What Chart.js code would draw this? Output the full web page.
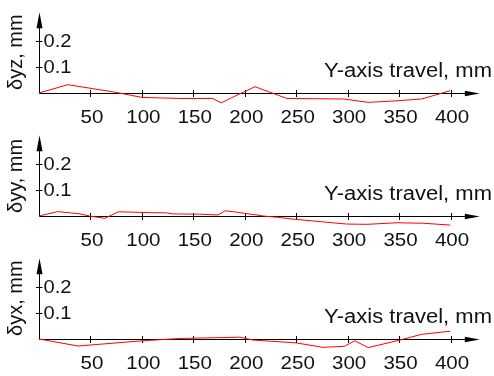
<!DOCTYPE html>
<html>
<head>
<meta charset="utf-8">
<script src="https://cdn.jsdelivr.net/npm/chart.js@4.4.1/dist/chart.umd.min.js"></script>
<style>
  html, body { margin: 0; padding: 0; background: #fff; }
  #wrap { position: relative; width: 494px; height: 376px; overflow: hidden; background: #fff; }
  canvas { position: absolute; left: 0; }
</style>
</head>
<body>
<div id="wrap">
  <canvas id="c1" width="494" height="125" style="top:0px"></canvas>
  <canvas id="c2" width="494" height="125" style="top:123px"></canvas>
  <canvas id="c3" width="494" height="130" style="top:246px"></canvas>
</div>
<script>
// ---- data ----
const xTicks = [50, 100, 150, 200, 250, 300, 350, 400];
const yTicks = [0.1, 0.2];
const xTitle = "Y-axis travel, mm";
const yTitles = ["δyz, mm", "δyy, mm", "δyx, mm"];

const yzX = [0, 28, 74, 100, 137, 169, 177, 200, 210, 241, 296, 320, 348, 372, 400];
const yzV = [0, 0.032, 0.003, -0.017, -0.021, -0.021, -0.038, 0.006, 0.024, -0.021, -0.023, -0.036, -0.030, -0.023, 0.009];

const yyX = [0, 18, 40, 49, 64, 77, 91, 105, 124, 130, 156, 174, 181, 190, 200, 210, 218, 232, 247, 299, 319, 348, 374, 400];
const yyV = [0, 0.017, 0.008, 0, -0.009, 0.016, 0.015, 0.013, 0.012, 0.008, 0.007, 0.004, 0.020, 0.016, 0.010, 0.005, 0, -0.005, -0.012, -0.031, -0.032, -0.026, -0.028, -0.035];

const yxX = [0, 38, 100, 137, 195, 208, 250, 276, 297, 307, 320, 349, 372, 400];
const yxV = [0, -0.027, -0.007, 0.002, 0.007, -0.004, -0.015, -0.032, -0.028, -0.007, -0.033, -0.006, 0.018, 0.030];

const xMin = 0, xMax = 400, xArrowEnd = 428.5;
const yMin = -0.1, yMax = 0.3, yArrowEnd = 0.311;

const FONT = '"Liberation Sans", Arial, sans-serif';

function stretchText(ctx, txt, x, y, sx) {
  ctx.save();
  ctx.translate(x, y);
  ctx.scale(sx, 1);
  ctx.fillText(txt, 0, 0);
  ctx.restore();
}

const axesPlugin = {
  id: 'customAxes',
  beforeDatasetsDraw(chart, args, opts) {
    const ctx = chart.ctx;
    const xs = chart.scales.x, ys = chart.scales.y;
    const x0 = Math.round(xs.getPixelForValue(0)) + 0.5;
    const y0 = Math.round(ys.getPixelForValue(0)) + 0.5;
    const xe = xs.getPixelForValue(xArrowEnd);
    const ye = ys.getPixelForValue(yArrowEnd);
    ctx.save();
    ctx.strokeStyle = '#000';
    ctx.fillStyle = '#000';
    ctx.lineWidth = 1;
    // axes lines
    ctx.beginPath();
    ctx.moveTo(x0, y0); ctx.lineTo(xe - 8, y0);
    ctx.moveTo(x0, y0); ctx.lineTo(x0, ye + 8);
    ctx.stroke();
    // x arrow head
    ctx.beginPath();
    ctx.moveTo(xe, y0);
    ctx.lineTo(xe - 15, y0 - 2.8);
    ctx.lineTo(xe - 15, y0 + 2.8);
    ctx.closePath();
    ctx.fill();
    // y arrow head
    ctx.beginPath();
    ctx.moveTo(x0, ye);
    ctx.lineTo(x0 - 3, ye + 16);
    ctx.lineTo(x0 + 3, ye + 16);
    ctx.closePath();
    ctx.fill();
    // ticks
    ctx.beginPath();
    xTicks.forEach(v => {
      const px = Math.round(xs.getPixelForValue(v)) + 0.5;
      ctx.moveTo(px, y0 - 3.5); ctx.lineTo(px, y0 + 3.5);
    });
    yTicks.forEach(v => {
      const py = Math.round(ys.getPixelForValue(v)) + 0.5;
      ctx.moveTo(x0 - 3.5, py); ctx.lineTo(x0 + 3, py);
    });
    ctx.stroke();
    // tick labels
    ctx.fillStyle = '#111';
    ctx.font = '19px ' + FONT;
    ctx.textAlign = 'center';
    ctx.textBaseline = 'middle';
    xTicks.forEach(v => {
      stretchText(ctx, String(v), xs.getPixelForValue(v) + 1.5, y0 + 24, 1.08);
    });
    ctx.textAlign = 'left';
    yTicks.forEach(v => {
      stretchText(ctx, v.toFixed(1), x0 + 4, ys.getPixelForValue(v) + 1, 1.06);
    });
    // x title
    ctx.font = '20px ' + FONT;
    ctx.textAlign = 'right';
    ctx.textBaseline = 'alphabetic';
    stretchText(ctx, xTitle, 492, y0 - 16.5, 1.1);
    // y title (rotated)
    ctx.save();
    ctx.translate(22, y0 - 3.5);
    ctx.rotate(-Math.PI / 2);
    ctx.textAlign = 'left';
    ctx.fillText(opts.title, 0, 0);
    ctx.restore();
    ctx.restore();
  }
};

function makeChart(id, xsArr, vsArr, title, bottomPad) {
  const pts = xsArr.map((x, i) => ({ x: x, y: vsArr[i] }));
  return new Chart(document.getElementById(id), {
    type: 'line',
    data: {
      datasets: [{
        data: pts,
        borderColor: 'rgb(255,0,0)',
        borderWidth: 1,
        pointRadius: 0,
        tension: 0,
        fill: false
      }]
    },
    options: {
      responsive: false,
      animation: false,
      devicePixelRatio: 1,
      layout: { padding: { left: 39, right: 43.5, top: 15, bottom: bottomPad } },
      scales: {
        x: { type: 'linear', min: xMin, max: xMax, display: false },
        y: { type: 'linear', min: yMin, max: yMax, display: false }
      },
      plugins: {
        legend: { display: false },
        tooltip: { enabled: false },
        customAxes: { title: title }
      }
    },
    plugins: [axesPlugin]
  });
}

makeChart('c1', yzX, yzV, yTitles[0], 6);
makeChart('c2', yyX, yyV, yTitles[1], 6);
makeChart('c3', yxX, yxV, yTitles[2], 11);
</script>
</body>
</html>
